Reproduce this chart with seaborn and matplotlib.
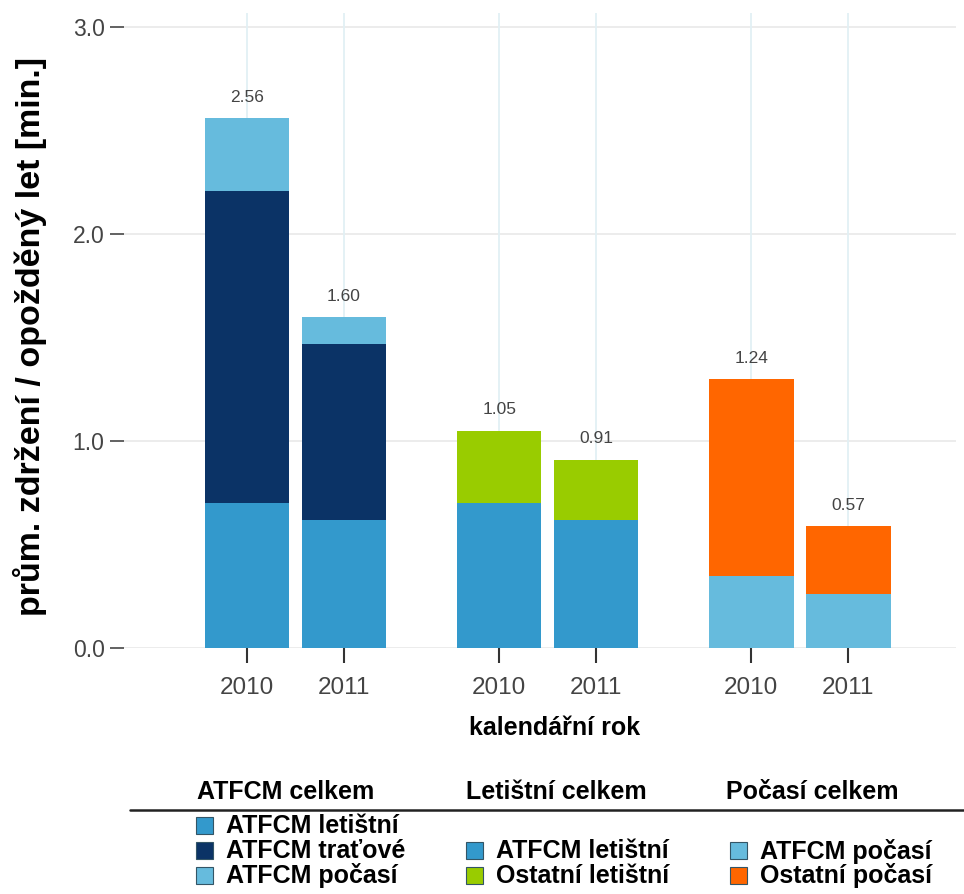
"""Stacked bar chart: average delay per delayed flight (2010 / 2011),
split into ATFCM, airport and weather causes, with a table-like legend below."""

import pandas as pd
import matplotlib.pyplot as plt
import seaborn as sns
from matplotlib.patches import Rectangle
from matplotlib.lines import Line2D

# data
years = ["2010", "2011"]
groups = ["ATFCM celkem", "Letištní celkem", "Počasí celkem"]

# ATFCM celkem
atfcm_letistni = [0.70, 0.62]
atfcm_tratove = [1.51, 0.85]
atfcm_pocasi = [0.35, 0.13]
# Letištní celkem
let_atfcm_letistni = [0.70, 0.62]
let_ostatni = [0.35, 0.29]
# Počasí celkem
poc_atfcm_pocasi = [0.35, 0.26]
poc_ostatni = [0.95, 0.33]

# numbers printed above the bars
total_labels = [["2.56", "1.60"], ["1.05", "0.91"], ["1.24", "0.57"]]

colors = {"ATFCM letištní": "#3399cc",
          "ATFCM traťové": "#0b3366",
          "ATFCM počasí": "#66bbdd",
          "Ostatní letištní": "#99cc00",
          "Ostatní počasí": "#ff6600"}

# segments of each group, bottom to top
stacks = [[("ATFCM letištní", atfcm_letistni), ("ATFCM traťové", atfcm_tratove), ("ATFCM počasí", atfcm_pocasi)],
          [("ATFCM letištní", let_atfcm_letistni), ("Ostatní letištní", let_ostatni)],
          [("ATFCM počasí", poc_atfcm_pocasi), ("Ostatní počasí", poc_ostatni)]]

group_step = 2.6  # distance between groups (one year = 1)

############################################
# long table: one row per segment with its cumulative top
rows = []
for g, stack in enumerate(stacks):
    for y, year in enumerate(years):
        pos = g * group_step + y
        cum = 0
        n = len(stack)
        for i, (name, vals) in enumerate(stack):
            cum += vals[y]
            # level 0 = top segment, drawn first
            rows.append({"pos": pos, "group": g, "year": year, "segment": name,
                         "top": cum, "level": n - 1 - i})
df = pd.DataFrame(rows)

sns.set_style("white")
plt.rcParams["font.family"] = ["Liberation Sans", "DejaVu Sans"]

fig = plt.figure(figsize=(9.64, 8.94), dpi=100)
ax = fig.add_axes([124 / 964, (894 - 648) / 894, (956 - 124) / 964, (648 - 13) / 894])

# draw cumulative layers from the top down so lower segments cover the upper ones
for level in sorted(df["level"].unique()):
    sub = df[df["level"] == level]
    sns.barplot(data=sub, x="pos", y="top", hue="segment", palette=colors,
                native_scale=True, dodge=False, width=0.87, saturation=1,
                legend=False, ax=ax, linewidth=0, zorder=2)

# totals above bars
tops = df.groupby("pos")["top"].max()
for g in range(len(groups)):
    for y in range(len(years)):
        pos = g * group_step + y
        ax.text(pos, tops[pos] + 0.1, total_labels[g][y], ha="center", va="center",
                fontsize=12.5, color="#444444")

positions = sorted(df["pos"].unique())
ax.set_xticks(positions, labels=years * len(groups))
ax.set_xlim(-1.268, 7.31)
ax.set_ylim(0, 3.068)
ax.set_yticks([0, 1, 2, 3], labels=["0.0", "1.0", "2.0", "3.0"])

ax.tick_params(axis="y", left=True, length=10, width=1.3, color="#555555", pad=4,
               labelsize=16.5, labelcolor="#444444")
ax.tick_params(axis="x", bottom=True, length=11, width=1.5, color="#333333", pad=10,
               labelsize=17.5, labelcolor="#444444")

for s in ax.spines.values():
    s.set_visible(False)

# gridlines
ax.grid(False)
for yv in [0, 1, 2, 3]:
    ax.axhline(yv, color="#eaeaea", lw=1.3, zorder=0)
for xv in positions:
    ax.axvline(xv, color="#e2f0f4", lw=1.3, zorder=0)

ax.set_ylabel("prům. zdržení / opožděný let [min.]", fontsize=24.5, fontweight="bold", color="black")
ax.yaxis.set_label_coords(-0.113, 0.491)
ax.yaxis.label.set_va("center")
ax.set_xlabel("kalendářní rok", fontsize=18, fontweight="bold", color="black")
ax.xaxis.set_label_coords(0.518, -0.126)
ax.xaxis.label.set_va("center")

############################################
# legend drawn as a small table below the plot
header_x = [197, 466, 726]
box_x = [196, 466, 730]
row_y = [826, 851, 876]

def fx(px):
    return px / 964

def fy(py):
    return 1 - py / 894

for g, stack in enumerate(stacks):
    fig.text(fx(header_x[g]), fy(792), groups[g], ha="left", va="center",
             fontsize=18, fontweight="bold", color="black")
    n = len(stack)
    for i, (name, vals) in enumerate(stack):
        ry = row_y[len(row_y) - n + i]
        fig.add_artist(Rectangle((fx(box_x[g]), fy(ry + 8)), 17 / 964, 17 / 894,
                                 transform=fig.transFigure, facecolor=colors[name],
                                 edgecolor="#335566", lw=0.8))
        fig.text(fx(box_x[g] + 30), fy(ry), name, ha="left", va="center",
                 fontsize=18, fontweight="bold", color="black")

fig.add_artist(Line2D([fx(130), 1.0], [fy(810), fy(810)], transform=fig.transFigure,
                      color="#222222", lw=1.8))

fig.savefig("out.png", dpi=100)
plt.close()
